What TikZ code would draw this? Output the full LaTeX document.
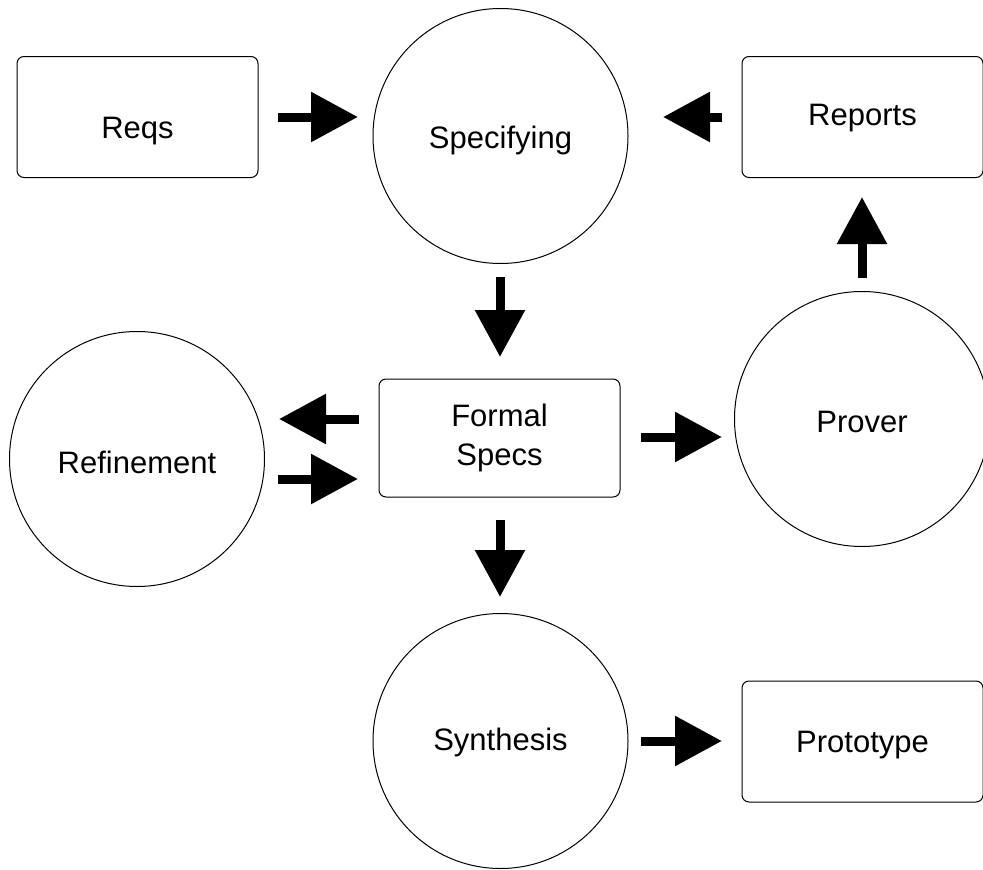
\documentclass[tikz,border=0pt]{standalone}
\usepackage{fontspec}
\setmainfont{Liberation Sans}
\usetikzlibrary{arrows.meta}
% lower (positive) or raise (negative) a label inside its shape
\newcommand{\lbl}[2]{\raisebox{-#1pt}{#2}}
\begin{document}
\begin{tikzpicture}[x=1pt,y=-1pt,
  every node/.style={font=\fontsize{31}{39}\selectfont},
  proc/.style={draw=black,line width=1pt,circle,minimum size=255pt,inner sep=0pt,
    text height=22pt,text depth=0pt},
  store/.style={draw=black,line width=1pt,rounded corners=7pt,minimum width=241pt,
    minimum height=121pt,inner sep=0pt,text height=22pt,text depth=0pt},
  blockarrow/.style={line width=9pt,-{Triangle[length=47pt,width=48pt]}}]
\useasboundingbox (0,0) rectangle (983,870);

% stores and processes
\node[store] (reqs)    at (137.5,117)   {\lbl{10}{Reqs}};
\node[proc]  (spec)    at (500.5,136)   {\lbl{1}{Specifying}};
\node[store] (reports) at (862.5,117)   {\lbl{-3}{Reports}};
\node[proc]  (refine)  at (137,459)     {\lbl{3}{Refinement}};
\node[store, minimum height=118pt, text height=, text depth=, align=center]
             (formal)  at (499.5,438)   {Formal\\Specs};
\node[proc]  (prover)  at (862,419)     {\lbl{2}{Prover}};
\node[proc]  (synth)   at (500.5,741)   {\lbl{-2}{Synthesis}};
\node[store] (proto)   at (862.5,741.5) {Prototype};

% arrow end points
\coordinate (a1s) at (278,117);  \coordinate (a1e) at (358,117);
\coordinate (a2s) at (722,117);  \coordinate (a2e) at (663,117);
\coordinate (a3s) at (500,277);  \coordinate (a3e) at (500,357);
\coordinate (a4s) at (359,419);  \coordinate (a4e) at (279,419);
\coordinate (a5s) at (278,479);  \coordinate (a5e) at (358,479);
\coordinate (a6s) at (641,437);  \coordinate (a6e) at (722,437);
\coordinate (a7s) at (500,520);  \coordinate (a7e) at (500,597);
\coordinate (a8s) at (641,741);  \coordinate (a8e) at (722,741);
\coordinate (a9s) at (862,278);  \coordinate (a9e) at (862,197);

% flow arrows
\draw[blockarrow] (a1s) -- (a1e);
\draw[blockarrow] (a2s) -- (a2e);
\draw[blockarrow] (a3s) -- (a3e);
\draw[blockarrow] (a4s) -- (a4e);
\draw[blockarrow] (a5s) -- (a5e);
\draw[blockarrow] (a6s) -- (a6e);
\draw[blockarrow] (a7s) -- (a7e);
\draw[blockarrow] (a8s) -- (a8e);
\draw[blockarrow] (a9s) -- (a9e);
\end{tikzpicture}
\end{document}
